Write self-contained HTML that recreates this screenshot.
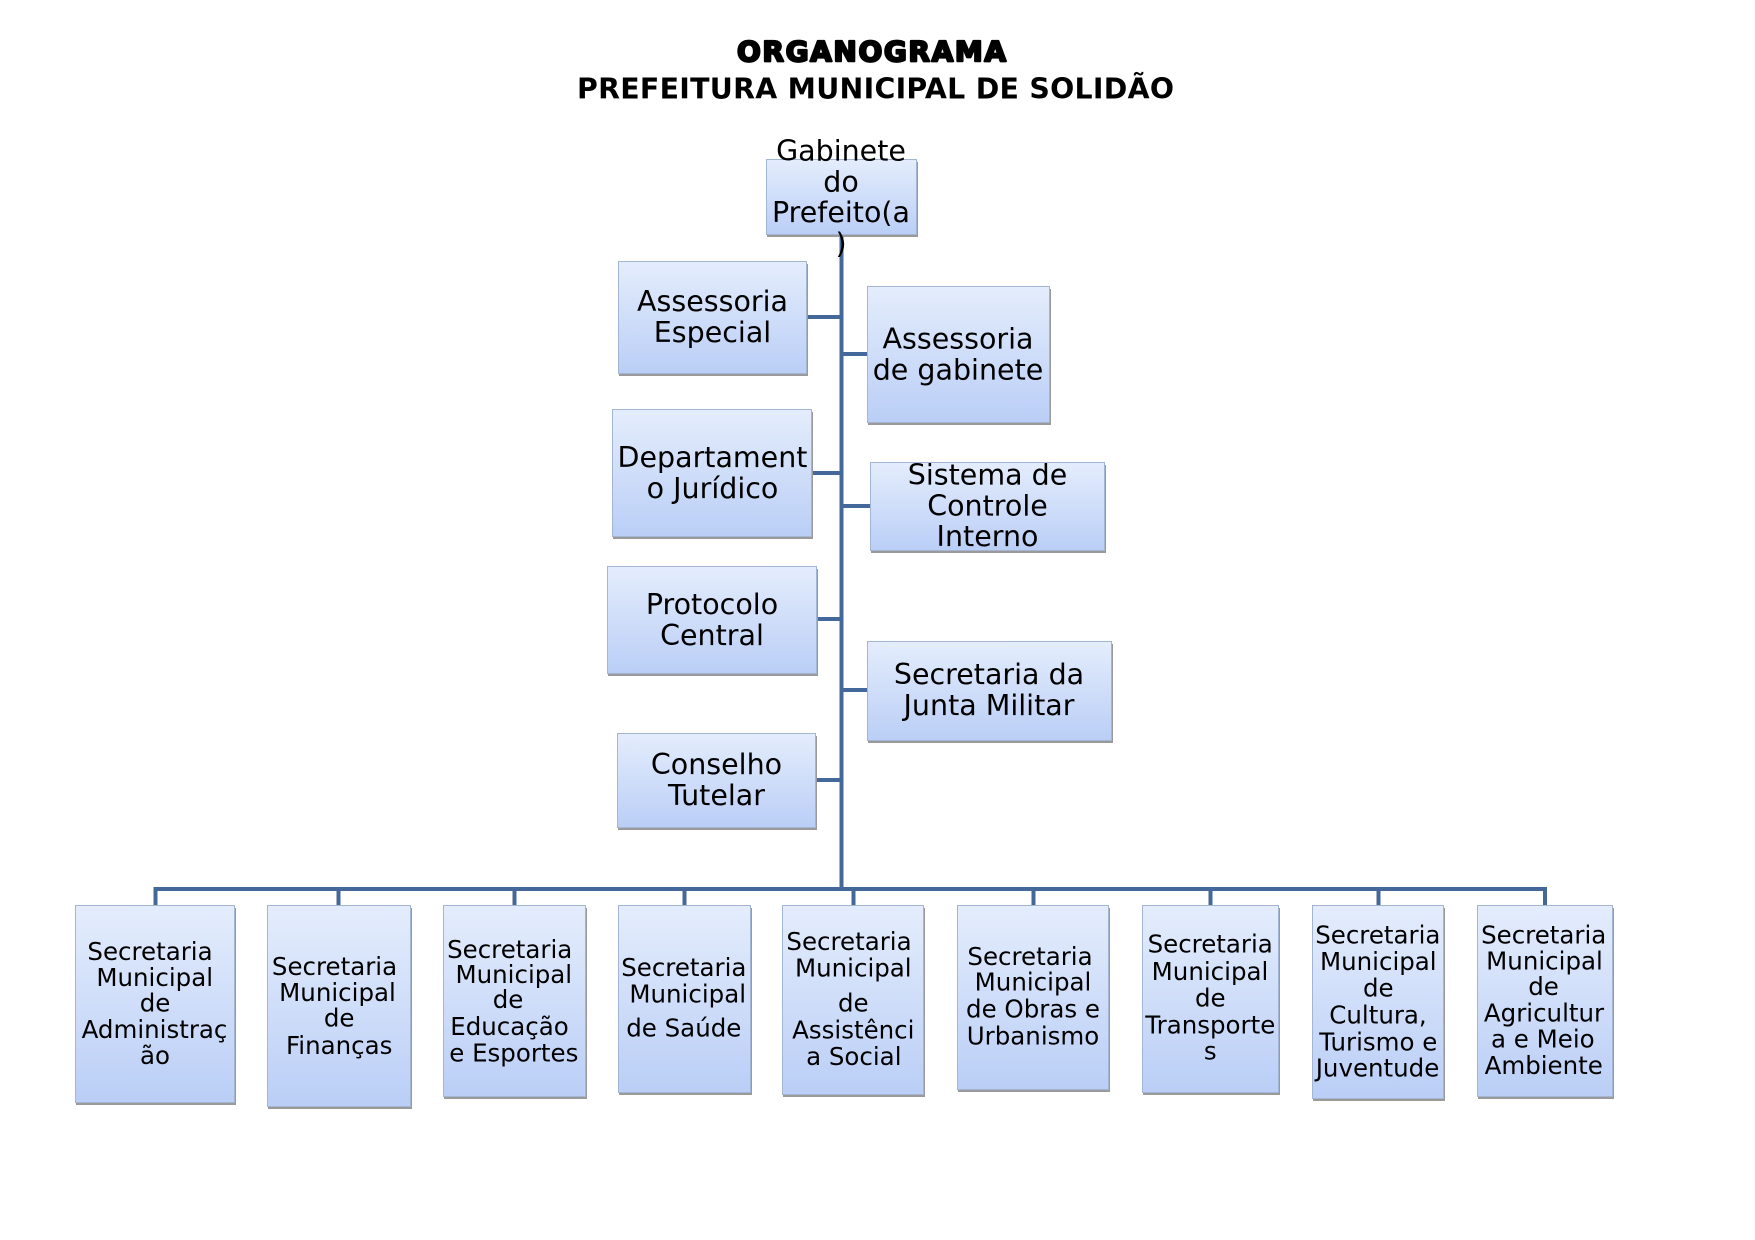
<!DOCTYPE html>
<html>
<head>
<meta charset="utf-8">
<style>
  html, body { margin: 0; padding: 0; background: #ffffff; overflow: hidden; }
  svg { display: block; }
  .t { font-family: "DejaVu Sans", "Liberation Sans", sans-serif; font-size: 28.5px; fill: #000; text-anchor: middle; }
  .b { font-family: "DejaVu Sans", "Liberation Sans", sans-serif; font-size: 24.5px; fill: #000; text-anchor: middle; }
  .h { font-family: "DejaVu Sans", "Liberation Sans", sans-serif; font-weight: bold; fill: #000; text-anchor: middle; }
</style>
</head>
<body>
<svg width="1755" height="1240" viewBox="0 0 1755 1240" xmlns="http://www.w3.org/2000/svg">
  <defs>
    <linearGradient id="g" x1="0" y1="0" x2="0" y2="1">
      <stop offset="0" stop-color="#e4edfc"/>
      <stop offset="1" stop-color="#bacef6"/>
    </linearGradient>
  </defs>
  <rect x="0" y="0" width="1755" height="1240" fill="#ffffff"/>

  <!-- Title -->
  <text class="h" x="871.5" y="61" font-size="28px" stroke="#000" stroke-width="2.2" stroke-linejoin="round" textLength="269" lengthAdjust="spacing">ORGANOGRAMA</text>
  <text class="h" x="875.5" y="98.5" font-size="28.4px" textLength="597" lengthAdjust="spacing">PREFEITURA MUNICIPAL DE SOLIDÃO</text>

  <!-- Connectors -->
  <g stroke="#44689a" stroke-width="4" fill="none" stroke-linejoin="miter">
    <path d="M841.5 234 V889"/>
    <path d="M807 317 H841.5"/>
    <path d="M841.5 354 H867"/>
    <path d="M812 473 H841.5"/>
    <path d="M841.5 506 H870"/>
    <path d="M817 619 H841.5"/>
    <path d="M841.5 690 H867"/>
    <path d="M816 780 H841.5"/>
    <path d="M155.5 905 V889 H1545 V905"/>
    <path d="M338.5 889 V905"/>
    <path d="M514.5 889 V905"/>
    <path d="M684.5 889 V905"/>
    <path d="M853.5 889 V905"/>
    <path d="M1033.5 889 V905"/>
    <path d="M1210.5 889 V905"/>
    <path d="M1378.5 889 V905"/>
  </g>

  <!-- Box shadows -->
  <g fill="#9a9a9a">
    <rect x="767" y="162" width="151" height="75"/>
    <rect x="619" y="264" width="189" height="112"/>
    <rect x="868" y="289" width="183" height="136"/>
    <rect x="613" y="412" width="200" height="127"/>
    <rect x="871" y="465" width="235" height="88"/>
    <rect x="608" y="569" width="210" height="107"/>
    <rect x="868" y="644" width="245" height="99"/>
    <rect x="618" y="736" width="199" height="94"/>

    <rect x="76" y="908" width="160" height="197"/>
    <rect x="268" y="908" width="144" height="201"/>
    <rect x="444" y="908" width="143" height="191"/>
    <rect x="619" y="908" width="133" height="187"/>
    <rect x="783" y="908" width="142" height="189"/>
    <rect x="958" y="908" width="152" height="184"/>
    <rect x="1143" y="908" width="137" height="187"/>
    <rect x="1313" y="908" width="132" height="193"/>
    <rect x="1478" y="908" width="136" height="191"/>
  </g>

  <!-- Boxes -->
  <g fill="url(#g)" stroke="#a3b5d3" stroke-width="1">
    <rect x="766.5" y="159.5" width="150" height="75"/>
    <rect x="618.5" y="261.5" width="188" height="112"/>
    <rect x="867.5" y="286.5" width="182" height="136"/>
    <rect x="612.5" y="409.5" width="199" height="127"/>
    <rect x="870.5" y="462.5" width="234" height="88"/>
    <rect x="607.5" y="566.5" width="209" height="107"/>
    <rect x="867.5" y="641.5" width="244" height="99"/>
    <rect x="617.5" y="733.5" width="198" height="94"/>

    <rect x="75.5" y="905.5" width="159" height="197"/>
    <rect x="267.5" y="905.5" width="143" height="201"/>
    <rect x="443.5" y="905.5" width="142" height="191"/>
    <rect x="618.5" y="905.5" width="132" height="187"/>
    <rect x="782.5" y="905.5" width="141" height="189"/>
    <rect x="957.5" y="905.5" width="151" height="184"/>
    <rect x="1142.5" y="905.5" width="136" height="187"/>
    <rect x="1312.5" y="905.5" width="131" height="193"/>
    <rect x="1477.5" y="905.5" width="135" height="191"/>
  </g>

  <!-- Top texts -->
  <text class="t" x="841" y="160.5">Gabinete</text>
  <text class="t" x="841" y="191.5">do</text>
  <text class="t" x="841" y="222">Prefeito(a</text>
  <text class="t" x="841" y="253">)</text>

  <text class="t" x="712.5" y="311">Assessoria</text>
  <text class="t" x="712.5" y="342">Especial</text>

  <text class="t" x="958" y="348.5">Assessoria</text>
  <text class="t" x="958" y="379.5">de gabinete</text>

  <text class="t" x="712.5" y="467">Departament</text>
  <text class="t" x="712.5" y="498">o Jurídico</text>

  <text class="t" x="987.5" y="484.5">Sistema de</text>
  <text class="t" x="987.5" y="515.5">Controle</text>
  <text class="t" x="987.5" y="546">Interno</text>

  <text class="t" x="712" y="614">Protocolo</text>
  <text class="t" x="712" y="645">Central</text>

  <text class="t" x="989" y="684">Secretaria da</text>
  <text class="t" x="989" y="715">Junta Militar</text>

  <text class="t" x="716.5" y="774">Conselho</text>
  <text class="t" x="716.5" y="805">Tutelar</text>

  <!-- Bottom texts -->
  <text class="b" x="150" y="960">Secretaria</text>
  <text class="b" x="154.7" y="986">Municipal</text>
  <text class="b" x="155" y="1011.7">de</text>
  <text class="b" x="154.5" y="1038">Administraç</text>
  <text class="b" x="155" y="1064">ão</text>

  <text class="b" x="334.5" y="975">Secretaria</text>
  <text class="b" x="337.5" y="1001">Municipal</text>
  <text class="b" x="339.2" y="1026.7">de</text>
  <text class="b" x="339.2" y="1054">Finanças</text>

  <text class="b" x="509.7" y="958">Secretaria</text>
  <text class="b" x="513.8" y="983">Municipal</text>
  <text class="b" x="508" y="1008">de</text>
  <text class="b" x="509.5" y="1035">Educação</text>
  <text class="b" x="513.8" y="1061.7">e Esportes</text>

  <text class="b" x="683.8" y="976">Secretaria</text>
  <text class="b" x="687.7" y="1002.7">Municipal</text>
  <text class="b" x="683.8" y="1036.7">de Saúde</text>

  <text class="b" x="849" y="950">Secretaria</text>
  <text class="b" x="853.3" y="976.7">Municipal</text>
  <text class="b" x="853.3" y="1011.7">de</text>
  <text class="b" x="853.3" y="1038.3">Assistênci</text>
  <text class="b" x="853.8" y="1065">a Social</text>

  <text class="b" x="1030" y="965">Secretaria</text>
  <text class="b" x="1033" y="990.7">Municipal</text>
  <text class="b" x="1033" y="1017.7">de Obras e</text>
  <text class="b" x="1033" y="1044.3">Urbanismo</text>

  <text class="b" x="1210.2" y="952.7">Secretaria</text>
  <text class="b" x="1210" y="980">Municipal</text>
  <text class="b" x="1210.3" y="1006.7">de</text>
  <text class="b" x="1210.3" y="1033.3">Transporte</text>
  <text class="b" x="1210.3" y="1059.3">s</text>

  <text class="b" x="1377.8" y="943.3">Secretaria</text>
  <text class="b" x="1378.3" y="970">Municipal</text>
  <text class="b" x="1378.3" y="996.7">de</text>
  <text class="b" x="1378" y="1023.3">Cultura,</text>
  <text class="b" x="1378.3" y="1050.7">Turismo e</text>
  <text class="b" x="1377.5" y="1076.7">Juventude</text>

  <text class="b" x="1543.7" y="943.3">Secretaria</text>
  <text class="b" x="1544.5" y="969.3">Municipal</text>
  <text class="b" x="1543.5" y="995">de</text>
  <text class="b" x="1544" y="1021.7">Agricultur</text>
  <text class="b" x="1542.8" y="1047.7">a e Meio</text>
  <text class="b" x="1543.7" y="1074">Ambiente</text>
</svg>
</body>
</html>
